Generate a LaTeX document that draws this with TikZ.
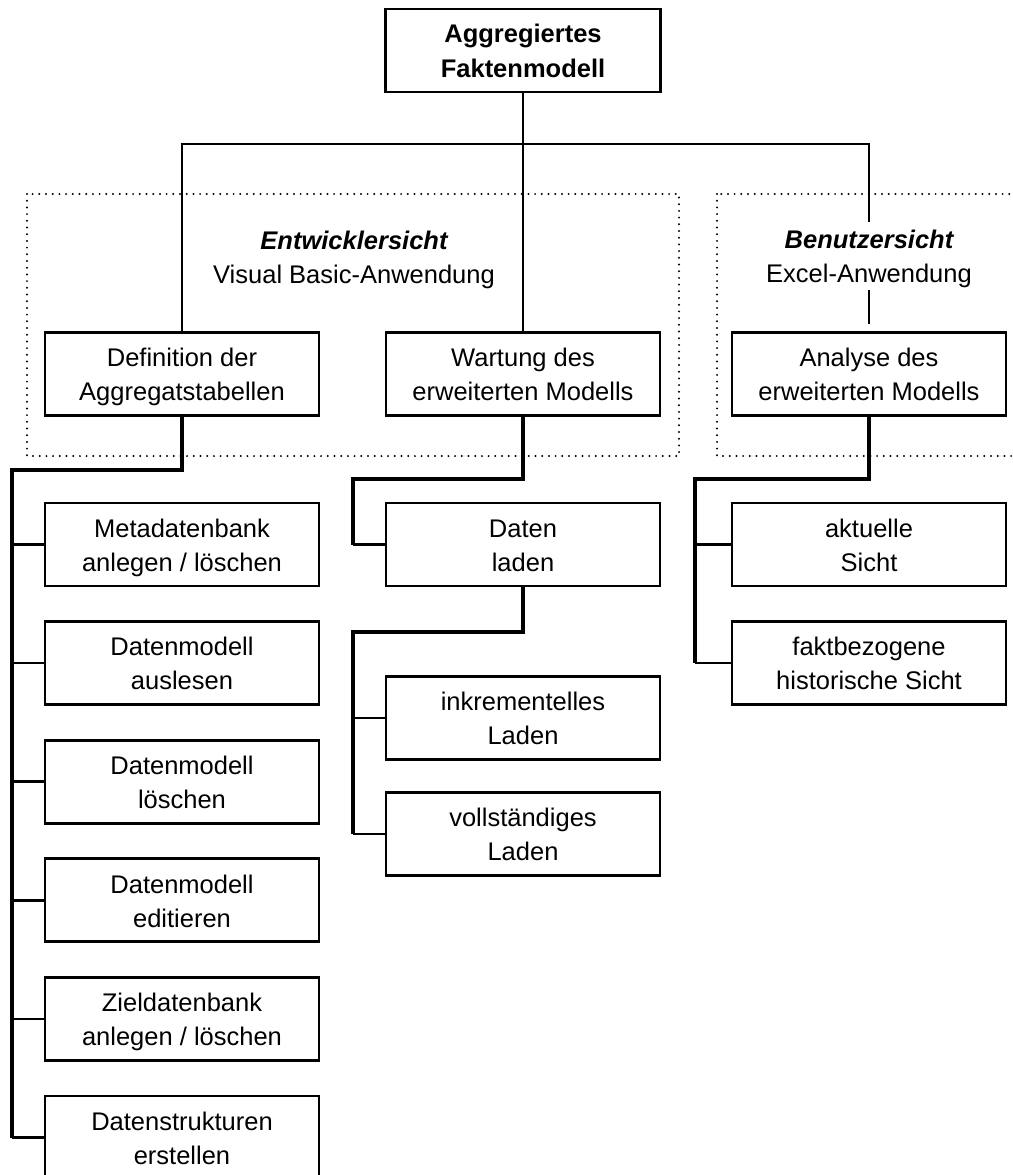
\documentclass[tikz,border=0pt]{standalone}
\usepackage{fontspec}
\setmainfont{Liberation Sans}
% struts that fix the height of the first line and the depth of the last one
\newcommand\lnstrut{\rule[-7pt]{0pt}{33.6pt}}
\begin{document}
\begin{tikzpicture}[x=1pt,y=-1pt,
  txt/.style={align=center, font=\fontsize{25.5}{34}\selectfont,
    execute at end node=\lnstrut},
  box/.style={txt, draw, line width=2.8pt, minimum width=274pt, minimum height=83pt, inner sep=0pt},
  label/.style={txt, inner sep=0pt},
  tree/.style={line width=2.8pt},
  bus/.style={line width=3.5pt},
  stub/.style={line width=2.5pt},
  dotbox/.style={line width=2.2pt, line cap=round, dash pattern=on 0pt off 6.7pt}]
\useasboundingbox (0,0) rectangle (1012,1175);
\fill[white] (0,0) rectangle (1012,1175);

% the two view frames
\draw[dotbox] (27,194) rectangle (679,456);
\draw[dotbox] (717,194) rectangle (1040,456);

% boxes
\node[box, font=\fontsize{25.5}{35}\selectfont\bfseries, minimum width=275pt] (top) at (523,50.5) {\lnstrut Aggregiertes\\Faktenmodell};

\node[label] (entw) at (354,256.5) {\lnstrut\bfseries\itshape Entwicklersicht\\Visual Basic-Anwendung};
\node[label, minimum height=67pt] (benutzer) at (869,256) {\lnstrut\bfseries\itshape Benutzersicht\\Excel-Anwendung};

\node[box] (defn) at (182,374) {\lnstrut Definition der\\Aggregatstabellen};
\node[box] (wartung) at (523,374) {\lnstrut Wartung des\\erweiterten Modells};
\node[box] (analyse) at (869,374) {\lnstrut Analyse des\\erweiterten Modells};

\node[box] (m1) at (182,544.5) {\lnstrut Metadatenbank\\anlegen / löschen};
\node[box] (m2) at (182,663.1) {\lnstrut Datenmodell\\auslesen};
\node[box] (m3) at (182,781.7) {\lnstrut Datenmodell\\löschen};
\node[box] (m4) at (182,900.3) {\lnstrut Datenmodell\\editieren};
\node[box] (m5) at (182,1018.9) {\lnstrut Zieldatenbank\\anlegen / löschen};
\node[box] (m6) at (182,1137.5) {\lnstrut Datenstrukturen\\erstellen};

\node[box] (daten) at (523,544.5) {\lnstrut Daten\\laden};
\node[box] (inkr) at (523,718) {\lnstrut inkrementelles\\Laden};
\node[box] (voll) at (523,834) {\lnstrut vollständiges\\Laden};

\node[box] (akt) at (869,544.5) {\lnstrut aktuelle\\Sicht};
\node[box] (fakt) at (869,663) {\lnstrut faktbezogene\\historische Sicht};

% top level tree
\coordinate (bar) at (523,144);
\coordinate (gapR) at (869,324);
\draw[tree] (top.south) -- (wartung.north);
\draw[tree] (defn.north) |- (bar) -| (benutzer.north);
\draw[tree] (benutzer.south) -- (gapR);

% left branch
\coordinate (busL) at (12,470);
\draw[bus] (defn.south) |- (busL) -- (busL |- m6.west);
\foreach \n in {m1,m2,m3,m4,m5,m6}
  \draw[stub] (busL |- \n.west) -- (\n.west);

% middle branch
\coordinate (busM) at (353,479);
\draw[bus] (wartung.south) |- (busM) -- (busM |- daten.west);
\draw[stub] (busM |- daten.west) -- (daten.west);
\coordinate (busN) at (353,632);
\draw[bus] (daten.south) |- (busN) -- (busN |- voll.west);
\foreach \n in {inkr,voll}
  \draw[stub] (busN |- \n.west) -- (\n.west);

% right branch
\coordinate (busR) at (695,479);
\draw[bus] (analyse.south) |- (busR) -- (busR |- fakt.west);
\foreach \n in {akt,fakt}
  \draw[stub] (busR |- \n.west) -- (\n.west);
\end{tikzpicture}
\end{document}
